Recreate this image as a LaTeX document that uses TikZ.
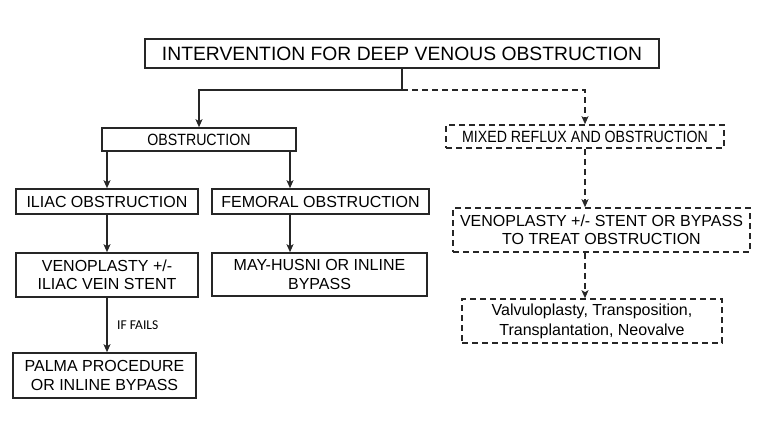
\documentclass[tikz,border=0pt]{standalone}
\usepackage{fontspec}
\setmainfont{Liberation Sans}
\newfontfamily\narrowfont{Liberation Sans}[FakeStretch=0.87]
\newfontfamily\labelfont{Carlito}
\usetikzlibrary{arrows.meta}
\begin{document}
\begin{tikzpicture}[x=1pt,y=-1pt,
  box/.style={draw=black!85,line width=1.6pt,rectangle,inner sep=0pt,align=center,
    font=\fontsize{16}{18.5}\selectfont},
  dbox/.style={box,dash pattern=on 6pt off 4pt},
  arr/.style={line width=1.6pt,draw=black!85,-{Stealth[length=8pt,width=7pt,inset=2pt]}},
  darr/.style={arr,dash pattern=on 6pt off 4pt},
  sizebox/.style n args={2}{minimum width=#1pt,minimum height=#2pt}]
\useasboundingbox (0,0) rectangle (768,432);
\node[box,sizebox={514}{29},font=\fontsize{19.3}{23}\selectfont] (top) at (402,53.5) {INTERVENTION FOR DEEP VENOUS OBSTRUCTION};
\node[box,sizebox={194}{23},font=\narrowfont\fontsize{16.3}{18}\selectfont] (obs) at (199,139.5) {OBSTRUCTION};
\node[box,sizebox={182}{25}] (iliac) at (107,201.5) {ILIAC OBSTRUCTION};
\node[box,sizebox={217}{25}] (fem) at (320.5,201.5) {FEMORAL OBSTRUCTION};
\node[box,sizebox={182}{44}] (veno) at (107,275) {VENOPLASTY +/-\\ILIAC VEIN STENT};
\node[box,sizebox={215}{43}] (may) at (319.5,274.5) {MAY-HUSNI OR INLINE\\BYPASS};
\node[box,sizebox={183}{45}] (palma) at (104.5,375.5) {PALMA PROCEDURE\\OR INLINE BYPASS};
\node[dbox,sizebox={278}{23},font=\narrowfont\fontsize{16.3}{18}\selectfont] (mixed) at (585,136.5) {MIXED REFLUX AND OBSTRUCTION};
\node[dbox,sizebox={297}{44}] (veno2) at (601.5,230) {VENOPLASTY +/- STENT OR BYPASS\\TO TREAT OBSTRUCTION};
\node[dbox,sizebox={260}{44},font=\fontsize{16}{20}\selectfont] (valv) at (592,321) {Valvuloplasty, Transposition,\\Transplantation, Neovalve};
\coordinate (j) at (402,90);
\coordinate (fx) at (290,0);
\draw[line width=1.6pt,draw=black!85] (top.south) -- (j);
\draw[arr] (j) -| (obs.north);
\draw[darr] (j) -| (mixed.north);
\draw[arr] (obs.south -| iliac.north) -- (iliac.north);
\draw[arr] (obs.south -| fx) -- (fem.north -| fx);
\draw[arr] (iliac.south) -- (veno.north);
\draw[arr] (fem.south -| fx) -- (may.north -| fx);
\draw[arr] (veno.south) -- (veno.south |- palma.north)
  node[midway,right=6pt,font=\labelfont\fontsize{13.5}{15}\selectfont] (iff) {IF FAILS};
\draw[darr] (mixed.south) -- (mixed.south |- veno2.north);
\draw[darr] (mixed.south |- veno2.south) -- (mixed.south |- valv.north);
\end{tikzpicture}
\end{document}
